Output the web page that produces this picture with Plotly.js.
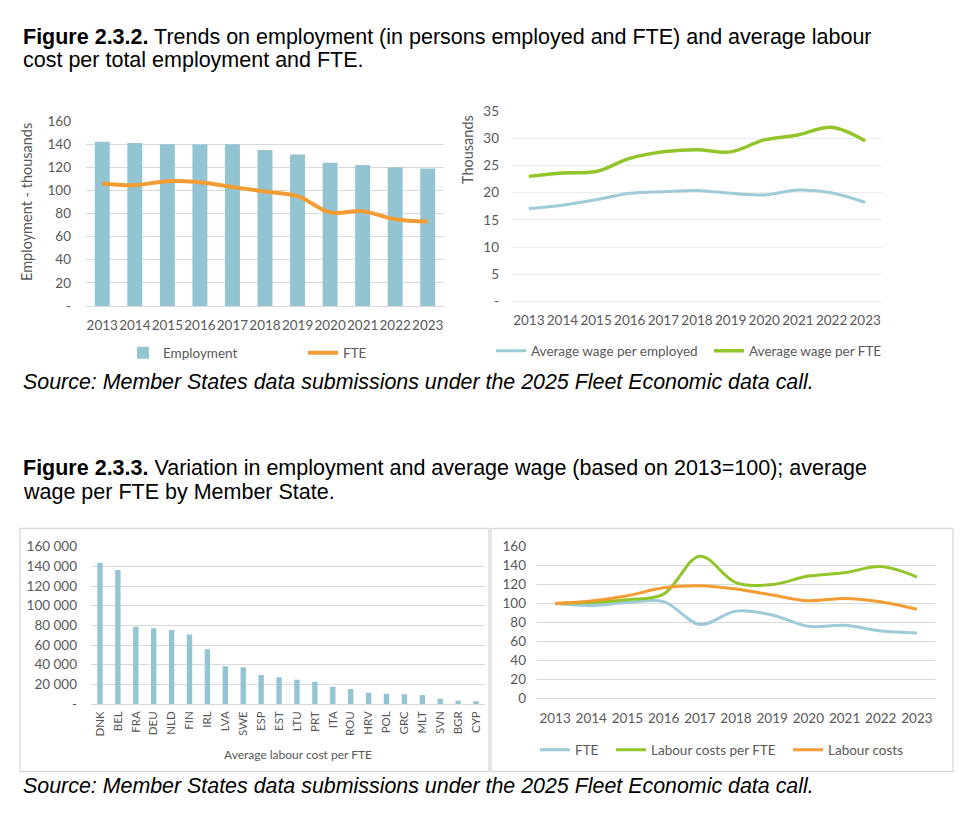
<!DOCTYPE html>
<html>
<head>
<meta charset="utf-8">
<script src="https://cdn.plot.ly/plotly-3.0.1.min.js"></script>
<style>
html,body{margin:0;padding:0;background:#fff;}
#chart{width:975px;height:822px;}
</style>
</head>
<body>
<div id="chart"></div>
<script>
// ---------- DATA ----------
const years = ['2013','2014','2015','2016','2017','2018','2019','2020','2021','2022','2023'];

// Figure 2.3.2 (left): thousands
const employment = [142, 141, 140, 140, 140, 135, 131, 124, 122, 120, 119];
const fteThousands = [106, 104.5, 108, 107, 103, 99, 95, 81, 82, 75, 73];

// Figure 2.3.2 (right): thousands
const wagePerEmployed = [17.1, 17.7, 18.7, 19.9, 20.2, 20.4, 19.9, 19.6, 20.5, 20.0, 18.2];
const wagePerFte = [23.0, 23.6, 23.9, 26.3, 27.5, 27.9, 27.5, 29.7, 30.6, 32.0, 29.5];

// Figure 2.3.3 (left): average labour cost per FTE by Member State
const memberStates = ['DNK','BEL','FRA','DEU','NLD','FIN','IRL','LVA','SWE','ESP','EST','LTU','PRT','ITA','ROU','HRV','POL','GRC','MLT','SVN','BGR','CYP'];
const labourCostPerFte = [143700, 136300, 78600, 77000, 75300, 70800, 55600, 38300, 37300, 29500, 27100, 24700, 22700, 17600, 15300, 11500, 10500, 9800, 9200, 5400, 3400, 2700];

// Figure 2.3.3 (right): index 2013 = 100
const fteIndex = [100, 98, 101, 102, 78, 92, 88, 76, 77, 71, 69];
const labourCostPerFteIndex = [100, 101, 104, 110, 150, 122, 120, 129, 132.5, 139, 128];
const labourCostsIndex = [100, 102.6, 108.3, 116.7, 118.8, 115.3, 109, 103, 105.4, 102, 94];

// Tick labels
const empTickVals = [0, 20, 40, 60, 80, 100, 120, 140, 160];
const empTickText = ['-', '20', '40', '60', '80', '100', '120', '140', '160'];
const wageTickVals = [0, 5, 10, 15, 20, 25, 30, 35];
const wageTickText = ['-', '5', '10', '15', '20', '25', '30', '35'];
const costTickVals = [0, 20000, 40000, 60000, 80000, 100000, 120000, 140000, 160000];
const costTickText = ['-', '20 000', '40 000', '60 000', '80 000', '100 000', '120 000', '140 000', '160 000'];
const indexTickVals = [0, 20, 40, 60, 80, 100, 120, 140, 160];
const indexTickText = ['0', '20', '40', '60', '80', '100', '120', '140', '160'];

// Texts
const heading1a = '<b>Figure 2.3.2.</b> Trends on employment (in persons employed and FTE) and average labour';
const heading1b = 'cost per total employment and FTE.';
const heading2a = '<b>Figure 2.3.3.</b> Variation in employment and average wage (based on 2013=100); average';
const heading2b = 'wage per FTE by Member State.';
const sourceText = '<i>Source: Member States data submissions under the 2025 Fleet Economic data call.</i>';

// ---------- STYLE ----------
const W = 975, H = 822;
const px = v => v / W;
const py = v => 1 - v / H;
const tickFont = {family: 'Lato, "Open Sans", sans-serif', size: 13.5, color: '#595959'};
const headFont = {family: '"Liberation Sans", Arial, sans-serif', size: 21.5, color: '#000'};
const srcFont = {family: '"Liberation Sans", Arial, sans-serif', size: 21.4, color: '#000'};
const barBlue = '#92C4D2';
const lineBlue = '#9DCBD8';
const orange = '#F39C33';
const green = '#92C52A';
const grid = '#d9d9d9';

const traces = [
  {type: 'bar', x: years, y: employment, name: 'Employment', xaxis: 'x', yaxis: 'y',
   marker: {color: barBlue}, width: 0.46, legend: 'legend', legendwidth: 135},
  {type: 'scatter', mode: 'lines', x: years, y: fteThousands, name: 'FTE', xaxis: 'x', yaxis: 'y',
   line: {color: orange, width: 4, shape: 'spline'}, legend: 'legend'},

  {type: 'scatter', mode: 'lines', x: years, y: wagePerEmployed, name: 'Average wage per employed', xaxis: 'x2', yaxis: 'y2',
   line: {color: lineBlue, width: 3, shape: 'spline'}, legend: 'legend2', legendwidth: 173},
  {type: 'scatter', mode: 'lines', x: years, y: wagePerFte, name: 'Average wage per FTE', xaxis: 'x2', yaxis: 'y2',
   line: {color: green, width: 3.5, shape: 'spline'}, legend: 'legend2'},

  {type: 'bar', x: memberStates, y: labourCostPerFte, name: 'Average labour cost per FTE', xaxis: 'x3', yaxis: 'y3',
   marker: {color: barBlue}, width: 0.3, showlegend: false},

  {type: 'scatter', mode: 'lines', x: years, y: fteIndex, name: 'FTE', xaxis: 'x4', yaxis: 'y4',
   line: {color: lineBlue, width: 3, shape: 'spline'}, legend: 'legend3', legendwidth: 31},
  {type: 'scatter', mode: 'lines', x: years, y: labourCostPerFteIndex, name: 'Labour costs per FTE', xaxis: 'x4', yaxis: 'y4',
   line: {color: green, width: 3, shape: 'spline'}, legend: 'legend3', legendwidth: 132},
  {type: 'scatter', mode: 'lines', x: years, y: labourCostsIndex, name: 'Labour costs', xaxis: 'x4', yaxis: 'y4',
   line: {color: orange, width: 3, shape: 'spline'}, legend: 'legend3'}
];

function xAx(domain, anchor, extra) {
  return Object.assign({type: 'category', domain: domain, anchor: anchor, showgrid: false, zeroline: false,
    showline: false, ticks: '', tickfont: tickFont, fixedrange: true, tickangle: 0}, extra || {});
}
function yAx(domain, anchor, range, vals, text, gcol, standoff) {
  return {domain: domain, anchor: anchor, range: range, tickvals: vals, ticktext: text, showgrid: true,
    gridcolor: gcol, gridwidth: 1, zeroline: true, zerolinecolor: gcol, zerolinewidth: 1, showline: false,
    ticks: '', tickfont: tickFont, fixedrange: true, ticklabelstandoff: standoff};
}

const legendBase = {orientation: 'h', xanchor: 'left', yanchor: 'middle', bgcolor: 'rgba(0,0,0,0)',
  font: tickFont, borderwidth: 0, traceorder: 'normal'};

const layout = {
  width: W, height: H,
  margin: {l: 0, r: 0, t: 0, b: 0, pad: 0},
  paper_bgcolor: '#fff', plot_bgcolor: 'rgba(0,0,0,0)',
  showlegend: true,
  barmode: 'overlay',
  xaxis: xAx([px(86), px(444)], 'y', {ticklabelstandoff: 9, range: [-0.5, 10.5]}),
  yaxis: yAx([py(306), py(121)], 'x', [0, 160], empTickVals, empTickText, grid, 14),
  xaxis2: xAx([px(512), px(882)], 'y2', {ticklabelstandoff: 9, range: [-0.5, 10.5]}),
  yaxis2: yAx([py(301.7), py(111)], 'x2', [0, 35], wageTickVals, wageTickText, '#ebebeb', 12),
  xaxis3: xAx([px(91), px(485)], 'y3', {tickangle: -90, ticklabelstandoff: 4, range: [-0.5, 21.5], tickfont: Object.assign({}, tickFont, {size: 11.5})}),
  yaxis3: yAx([py(704), py(546.7)], 'x3', [0, 160000], costTickVals, costTickText, grid, 13),
  xaxis4: xAx([px(537), px(935)], 'y4', {ticklabelstandoff: 10, range: [-0.5, 10.5]}),
  yaxis4: yAx([py(698.3), py(546.7)], 'x4', [0, 160], indexTickVals, indexTickText, grid, 10),
  legend: Object.assign({}, legendBase, {x: px(123), y: py(353)}),
  legend2: Object.assign({}, legendBase, {x: px(491), y: py(351)}),
  legend3: Object.assign({}, legendBase, {x: px(535), y: py(750)}),
  shapes: [
    {type: 'rect', xref: 'paper', yref: 'paper', x0: px(20), x1: px(489), y0: py(771.5), y1: py(528.5),
     line: {color: '#d9d9d9', width: 1.3}, fillcolor: 'rgba(0,0,0,0)', layer: 'below'},
    {type: 'rect', xref: 'paper', yref: 'paper', x0: px(491), x1: px(953), y0: py(771.5), y1: py(528.5),
     line: {color: '#d9d9d9', width: 1.3}, fillcolor: 'rgba(0,0,0,0)', layer: 'below'}
  ],
  annotations: [
    {text: heading1a, x: px(21), y: py(37), xref: 'paper', yref: 'paper', xanchor: 'left', yanchor: 'middle', showarrow: false, font: headFont},
    {text: heading1b, x: px(21), y: py(60), xref: 'paper', yref: 'paper', xanchor: 'left', yanchor: 'middle', showarrow: false, font: headFont},
    {text: sourceText, x: px(21), y: py(382), xref: 'paper', yref: 'paper', xanchor: 'left', yanchor: 'middle', showarrow: false, font: srcFont},
    {text: heading2a, x: px(21), y: py(468), xref: 'paper', yref: 'paper', xanchor: 'left', yanchor: 'middle', showarrow: false, font: headFont},
    {text: heading2b, x: px(21), y: py(492), xref: 'paper', yref: 'paper', xanchor: 'left', yanchor: 'middle', showarrow: false, font: headFont},
    {text: sourceText, x: px(21), y: py(786), xref: 'paper', yref: 'paper', xanchor: 'left', yanchor: 'middle', showarrow: false, font: srcFont},
    {text: 'Employment - thousands', textangle: -90, x: px(26), y: py(202), xref: 'paper', yref: 'paper', xanchor: 'center', yanchor: 'middle', showarrow: false, font: Object.assign({}, tickFont, {size: 14.5})},
    {text: 'Thousands', textangle: -90, x: px(467), y: py(150), xref: 'paper', yref: 'paper', xanchor: 'center', yanchor: 'middle', showarrow: false, font: Object.assign({}, tickFont, {size: 14.5})},
    {text: 'Average labour cost per FTE', x: px(298), y: py(754), xref: 'paper', yref: 'paper', xanchor: 'center', yanchor: 'middle', showarrow: false, font: Object.assign({}, tickFont, {size: 12})}
  ]
};

Plotly.newPlot('chart', traces, layout, {displayModeBar: false, staticPlot: true});
</script>
</body>
</html>
